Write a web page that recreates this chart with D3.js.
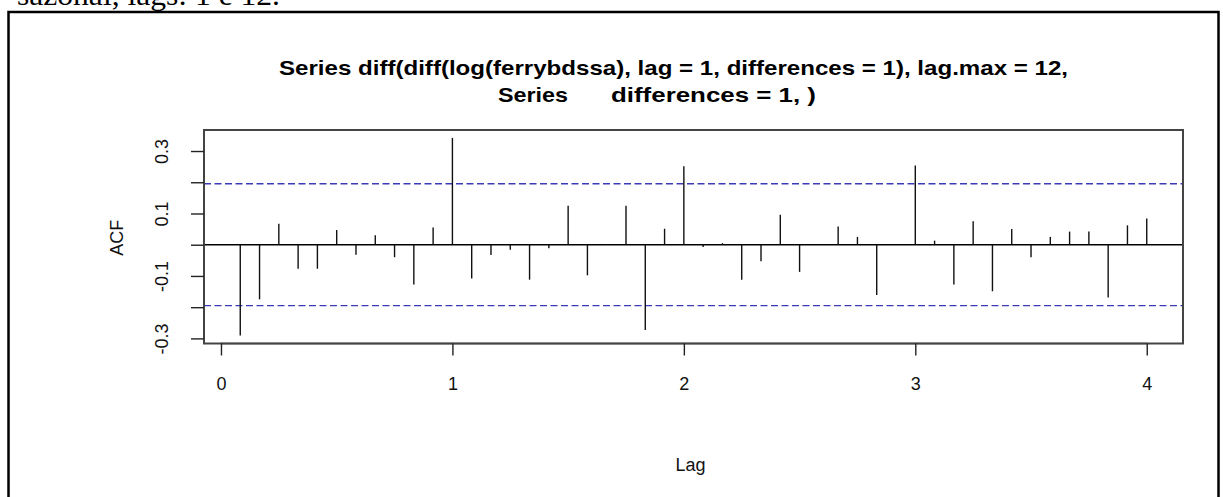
<!DOCTYPE html>
<html>
<head>
<meta charset="utf-8">
<script src="https://cdn.jsdelivr.net/npm/d3@7"></script>
<style>
  html, body { margin: 0; padding: 0; background: #fff; }
  svg { display: block; }
</style>
</head>
<body>
<svg id="chart" width="1223" height="497"></svg>
<script>
// Autocorrelations of the twice-differenced log series, lags 1..48 (months), shown in years
const lagMonths = d3.range(1, 49);
const acfValues = [
  -0.291, -0.175, 0.067, -0.077, -0.077, 0.047, -0.032, 0.030, -0.040, -0.127, 0.055, 0.342,
  -0.108, -0.033, -0.016, -0.112, -0.011, 0.125, -0.098, 0.002, 0.125, -0.273, 0.051, 0.251,
  -0.007, 0.005, -0.112, -0.053, 0.096, -0.087, 0.002, 0.058, 0.025, -0.161, 0.002, 0.254,
  0.013, -0.127, 0.075, -0.149, 0.050, -0.040, 0.025, 0.042, 0.042, -0.169, 0.062, 0.084
];
const confLimit = 0.195;
const xTicks = [0, 1, 2, 3, 4];
const yTicks = [-0.3, -0.2, -0.1, 0, 0.1, 0.2, 0.3];
const yTickLabels = ["-0.3", "", "-0.1", "", "0.1", "", "0.3"];
const titleLines = ["Series diff(diff(log(ferrybdssa), lag = 1, differences = 1), lag.max = 12,", "differences = 1, )"];

const svg = d3.select("#chart");
const box = { left: 204, right: 1183, top: 130, bottom: 343.5 };

const lags = lagMonths.map(m => m / 12);

// axis ranges extended by 4% on each side, like base graphics
const xExt = d3.extent(lags);
const xPad = 0.04 * (xExt[1] - xExt[0]);
const x = d3.scaleLinear().domain([xExt[0] - xPad, xExt[1] + xPad]).range([box.left, box.right]);

const yLo = Math.min(d3.min(acfValues), -confLimit);
const yHi = Math.max(d3.max(acfValues), confLimit);
const yPad = 0.04 * (yHi - yLo);
const y = d3.scaleLinear().domain([yLo - yPad, yHi + yPad]).range([box.bottom, box.top]);

// outer frame of the page region
svg.append("rect")
  .attr("x", 8.5).attr("y", 12).attr("width", 1210).attr("height", 500)
  .attr("fill", "none").attr("stroke", "#000").attr("stroke-width", 2.5);

// caption fragment above the frame
svg.append("text")
  .attr("x", 17).attr("y", 5)
  .attr("font-family", "'Liberation Serif', 'Times New Roman', serif")
  .attr("font-size", 29)
  .attr("textLength", 263).attr("lengthAdjust", "spacingAndGlyphs")
  .attr("fill", "#000")
  .text("sazonal, lags: 1 e 12.");

// title
const titleFont = "'Liberation Sans', Arial, sans-serif";
function titlePiece(tx, ty, len, str) {
  svg.append("text")
    .attr("x", tx).attr("y", ty)
    .attr("font-family", titleFont).attr("font-weight", "bold").attr("font-size", 21)
    .attr("textLength", len).attr("lengthAdjust", "spacingAndGlyphs")
    .attr("fill", "#000")
    .text(str);
}
titlePiece(279, 75, 789, titleLines[0]);
titlePiece(498, 101.5, 70, "Series");
titlePiece(611, 101.5, 205, titleLines[1]);

// confidence bounds
[confLimit, -confLimit].forEach(c => {
  svg.append("line")
    .attr("x1", box.left).attr("x2", box.right)
    .attr("y1", y(c)).attr("y2", y(c))
    .attr("stroke", "#3b3bb8").attr("stroke-width", 1.4)
    .attr("stroke-dasharray", "7,3.5");
});

// zero line
svg.append("line")
  .attr("x1", box.left).attr("x2", box.right)
  .attr("y1", y(0)).attr("y2", y(0))
  .attr("stroke", "#000").attr("stroke-width", 1.4);

// ACF spikes
svg.append("g").selectAll("line")
  .data(lags.map((l, i) => ({ lag: l, v: acfValues[i] })))
  .join("line")
  .attr("x1", d => x(d.lag)).attr("x2", d => x(d.lag))
  .attr("y1", y(0)).attr("y2", d => y(d.v))
  .attr("stroke", "#111").attr("stroke-width", 1.4);

// plot box
svg.append("rect")
  .attr("x", box.left).attr("y", box.top)
  .attr("width", box.right - box.left).attr("height", box.bottom - box.top)
  .attr("fill", "none").attr("stroke", "#444").attr("stroke-width", 2);

// x axis
const xAxis = d3.axisBottom(x).tickValues(xTicks).tickFormat(d3.format("d"))
  .tickSizeInner(12).tickSizeOuter(0).tickPadding(22);
const gx = svg.append("g").attr("transform", `translate(0,${box.bottom})`).call(xAxis);
gx.select(".domain").attr("d", `M${x(xTicks[0])},0H${x(xTicks[xTicks.length - 1])}`)
  .attr("stroke", "#444").attr("stroke-width", 1.6);
gx.selectAll(".tick line").attr("stroke", "#222").attr("stroke-width", 1.4);
gx.selectAll(".tick text").attr("font-family", titleFont).attr("font-size", 18).attr("fill", "#111");

// y axis
const yAxis = d3.axisLeft(y).tickValues(yTicks).tickFormat((d, i) => yTickLabels[i])
  .tickSizeInner(13).tickSizeOuter(0).tickPadding(0);
const gy = svg.append("g").attr("transform", `translate(${box.left},0)`).call(yAxis);
gy.select(".domain").attr("d", `M0,${y(yTicks[0])}V${y(yTicks[yTicks.length - 1])}`)
  .attr("stroke", "#444").attr("stroke-width", 1.6);
gy.selectAll(".tick line").attr("stroke", "#222").attr("stroke-width", 1.4);
gy.selectAll(".tick text")
  .attr("font-family", titleFont).attr("font-size", 18).attr("fill", "#111")
  .attr("x", null).attr("dy", null)
  .attr("text-anchor", "middle")
  .attr("transform", "translate(-42,0) rotate(-90)")
  .attr("y", 0).attr("dy", "0.35em");

// axis titles
svg.append("text")
  .attr("x", (box.left + box.right) / 2 - 3).attr("y", 471)
  .attr("text-anchor", "middle")
  .attr("font-family", titleFont).attr("font-size", 18).attr("fill", "#111")
  .text("Lag");
svg.append("text")
  .attr("transform", `translate(123,${(box.top + box.bottom) / 2 + 1}) rotate(-90)`)
  .attr("text-anchor", "middle")
  .attr("font-family", titleFont).attr("font-size", 18).attr("fill", "#111")
  .text("ACF");
</script>
</body>
</html>
